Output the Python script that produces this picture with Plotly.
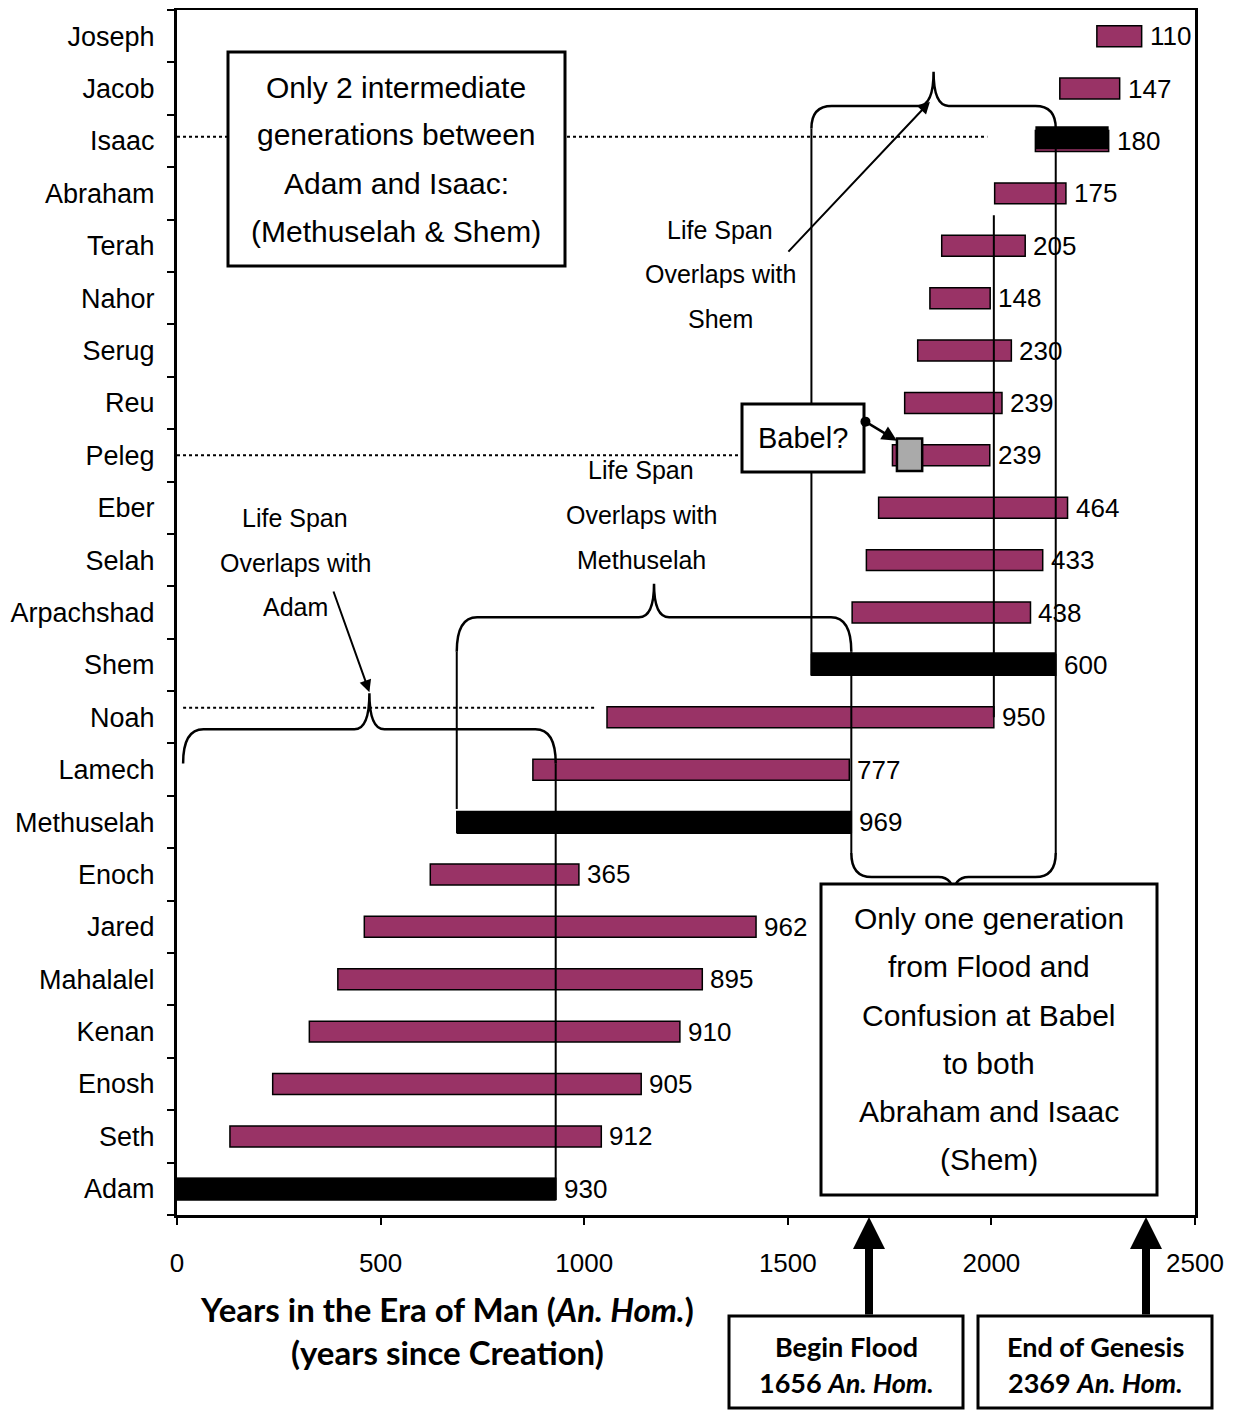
import plotly.graph_objects as go

# ---------------- data ----------------
names = ["Adam", "Seth", "Enosh", "Kenan", "Mahalalel", "Jared", "Enoch", "Methuselah",
         "Lamech", "Noah", "Shem", "Arpachshad", "Selah", "Eber", "Peleg", "Reu", "Serug",
         "Nahor", "Terah", "Abraham", "Isaac", "Jacob", "Joseph"]
birth = [0, 130, 235, 325, 395, 460, 622, 687, 874, 1056, 1558, 1658, 1693, 1723, 1757,
         1787, 1819, 1849, 1878, 2008, 2108, 2168, 2259]
lifespan = [930, 912, 905, 910, 895, 962, 365, 969, 777, 950, 600, 438, 433, 464, 239,
            239, 230, 148, 205, 175, 180, 147, 110]
highlight = ["Adam", "Methuselah", "Shem", "Isaac"]
x_ticks = [0, 500, 1000, 1500, 2000, 2500]

NARROW = "Liberation Sans, Arial, sans-serif"
HUMAN = "Lato, Open Sans, sans-serif"

idx = {n: i for i, n in enumerate(names)}
death = [b + l for b, l in zip(birth, lifespan)]
ypos = list(range(len(names)))

fig = go.Figure()
fig.add_trace(go.Bar(orientation="h", y=ypos, x=lifespan, base=birth, width=0.40,
                     marker=dict(color="#993366", line=dict(color="black", width=1.5)),
                     hoverinfo="skip"))
hl_i = [idx[n] for n in highlight]
fig.add_trace(go.Bar(orientation="h", y=hl_i, x=[lifespan[i] for i in hl_i],
                     base=[birth[i] for i in hl_i], width=0.44,
                     offset=[-0.23, -0.23, -0.20, -0.16],
                     marker=dict(color="black", line=dict(width=0)), hoverinfo="skip"))

ann = []
for i, n in enumerate(names):
    ann.append(dict(x=death[i], y=i, xref="x", yref="y", text=str(lifespan[i]),
                    showarrow=False, xanchor="left", yanchor="middle", xshift=6,
                    font=dict(family=NARROW, size=26, color="black")))

# ---------------- page geometry (the page body has an 8px margin) ----------------
OFF = 8
FIG_W, FIG_H = 1233 - OFF, 1410 - OFF
PL, PR, PT, PB = 177, 1195, 10, 1215   # plot area in page pixels


def pxp(x):
    return (x - PL) / (PR - PL)


def pyp(y):
    return (PB - y) / (PB - PT)


def lines_text(lines, cx, ys, size, family, fmt="{}"):
    for t, y in zip(lines, ys):
        ann.append(dict(xref="paper", yref="paper", x=pxp(cx), y=pyp(y), text=fmt.format(t),
                        showarrow=False, xanchor="center", yanchor="middle",
                        font=dict(family=family, size=size, color="black")))


def brace(x0, x1, y_end, y_h, y_tip, rx=50, rt=37):
    xm = (x0 + x1) / 2
    return (f"M {x0},{y_end} Q {x0},{y_h} {x0 + rx},{y_h} L {xm - rt},{y_h} "
            f"Q {xm},{y_h} {xm},{y_tip} Q {xm},{y_h} {xm + rt},{y_h} "
            f"L {x1 - rx},{y_h} Q {x1},{y_h} {x1},{y_end}")


shapes = []


def vline(x, y0, y1):
    shapes.append(dict(type="line", xref="x", yref="y", x0=x, x1=x, y0=y0, y1=y1,
                       line=dict(color="black", width=2), layer="above"))


def hdot(y, x0, x1):
    shapes.append(dict(type="line", xref="x", yref="y", x0=x0, x1=x1, y0=y, y1=y,
                       line=dict(color="black", width=2, dash="dot"), layer="above"))


A, M, S, N = idx["Adam"], idx["Methuselah"], idx["Shem"], idx["Noah"]
adam_death, meth_birth, meth_death = death[A], birth[M], death[M]
shem_birth, shem_death, noah_death = birth[S], death[S], death[N]

# dotted reference lines
hdot(idx["Isaac"] + 0.08, 0, 1990)
hdot(idx["Peleg"], 0, 1400)
hdot(N + 0.18, 15, 1030)

# vertical lines
vline(adam_death, A - 0.22, 8.12)
vline(meth_birth, M + 0.25, 10.25)
vline(meth_death, 6.41, 10.25)
vline(shem_birth, S - 0.2, 20.24)
vline(shem_death, 6.41, 20.24)
vline(noah_death, N, 18.58)

# braces
for p in [brace(15, adam_death, 8.12, 8.77, 9.46),
          brace(meth_birth, meth_death, 10.25, 10.91, 11.55),
          brace(shem_birth, shem_death, 20.24, 20.67, 21.32),
          brace(meth_death, shem_death, 6.41, 5.95, 5.58)]:
    shapes.append(dict(type="path", xref="x", yref="y", path=p,
                       line=dict(color="black", width=2.5), layer="above"))

# Babel marker
shapes.append(dict(type="rect", xref="x", yref="y", x0=1768, x1=1830,
                   y0=idx["Peleg"] - 0.30, y1=idx["Peleg"] + 0.32,
                   fillcolor="#aaaaaa", line=dict(color="black", width=2.5), layer="above"))


def box(x0, x1, y0, y1):
    shapes.append(dict(type="rect", xref="paper", yref="paper", x0=pxp(x0), x1=pxp(x1),
                       y0=pyp(y1), y1=pyp(y0), fillcolor="white",
                       line=dict(color="black", width=3), layer="above"))


box(228, 565, 52, 266)
box(742, 864, 404, 472)
box(821, 1157, 884, 1195)
box(729, 963, 1316, 1408)
box(978, 1212, 1316, 1408)

# texts
lines_text(["Only 2 intermediate", "generations between", "Adam and Isaac:",
            "(Methuselah &amp; Shem)"], 396, [87, 135, 183, 231], 30, NARROW)
lines_text(["Babel?"], 803, [438], 29, NARROW)
lines_text(["Only one generation", "from Flood and", "Confusion at Babel", "to both",
            "Abraham and Isaac", "(Shem)"], 989, [918, 966, 1015, 1063, 1111, 1159], 30, NARROW)
lines_text(["Life Span", "Overlaps with", "Shem"], 720, [230, 274, 319], 25, NARROW)
lines_text(["Life Span", "Overlaps with", "Methuselah"], 641, [470, 515, 560], 25, NARROW)
lines_text(["Life Span", "Overlaps with", "Adam"], 295, [518, 563, 607], 25, NARROW)
lines_text(["Years in the Era of Man (<i>An. Hom.</i>)", "(years since Creation)"],
           447, [1309, 1352], 33, HUMAN, fmt="<b>{}</b>")
lines_text(["Begin Flood", "1656 <i>An. Hom.</i>"], 846, [1346, 1382], 27, HUMAN, fmt="<b>{}</b>")
lines_text(["End of Genesis", "2369 <i>An. Hom.</i>"], 1095, [1346, 1382], 27, HUMAN,
           fmt="<b>{}</b>")

# arrows
ann.append(dict(xref="x", yref="y", x=1849, y=20.75, axref="x", ayref="y", ax=1498, ay=17.86,
                text="", showarrow=True, arrowhead=2, arrowsize=1.2, arrowwidth=2,
                arrowcolor="black", standoff=0))
ann.append(dict(xref="x", yref="y", x=(15 + adam_death) / 2, y=9.48, axref="x", ayref="y",
                ax=383, ay=11.43, text="", showarrow=True, arrowhead=2, arrowsize=1.2,
                arrowwidth=2, arrowcolor="black", standoff=0))
ann.append(dict(xref="x", yref="y", x=1768, y=idx["Peleg"] + 0.28, axref="x", ayref="y",
                ax=1687, ay=idx["Peleg"] + 0.66, text="", showarrow=True, arrowhead=2,
                arrowsize=1.2, arrowwidth=2.5, arrowcolor="black", standoff=0,
                arrowside="end+start", startarrowhead=6, startarrowsize=1))
for xp in [869, 1146]:
    ann.append(dict(xref="paper", yref="paper", x=pxp(xp), y=pyp(1217), ax=0, ay=99,
                    text="", showarrow=True, arrowhead=2, arrowsize=0.8, arrowwidth=8,
                    arrowcolor="black", standoff=0))

fig.update_layout(
    width=FIG_W, height=FIG_H,
    margin=dict(l=PL - OFF, r=FIG_W - (PR - OFF), t=PT - OFF, b=FIG_H - (PB - OFF),
                autoexpand=False),
    paper_bgcolor="white", plot_bgcolor="white",
    barmode="overlay", showlegend=False,
    shapes=shapes, annotations=ann,
    xaxis=dict(range=[0, 2500], tickvals=x_ticks, ticktext=[str(v) for v in x_ticks],
               ticks="outside", ticklen=7, tickwidth=2, tickcolor="black",
               showline=True, linewidth=3, linecolor="black", mirror=True,
               showgrid=False, zeroline=False, ticklabelstandoff=16, automargin=False,
               tickfont=dict(family=NARROW, size=26, color="black")),
    yaxis=dict(range=[-0.5, len(names) - 0.5], tickmode="array", tickvals=ypos,
               ticktext=names, ticks="", showline=True, linewidth=3, linecolor="black",
               mirror=True, showgrid=False, zeroline=False, ticklabelstandoff=14,
               automargin=False,
               tickfont=dict(family=NARROW, size=27, color="black"),
               minor=dict(tick0=0.5, dtick=1, ticks="outside", ticklen=7, tickwidth=2,
                          tickcolor="black", showgrid=False)),
)

fig.write_html("out.html")
